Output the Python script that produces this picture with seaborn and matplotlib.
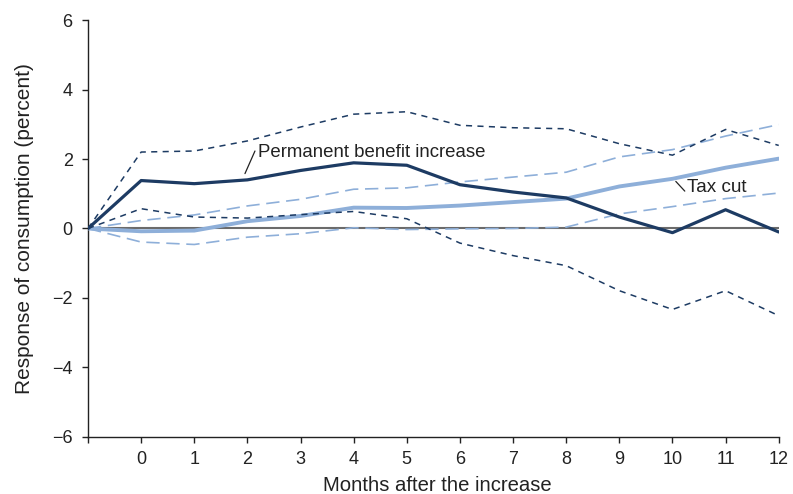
import matplotlib
matplotlib.use("Agg")
import matplotlib.pyplot as plt
import seaborn as sns
import pandas as pd

# Months after the increase (-1 is the pre-period anchor at zero)
months = [-1, 0, 1, 2, 3, 4, 5, 6, 7, 8, 9, 10, 11, 12]

# Permanent benefit increase: point estimate and confidence band
perm = [0, 1.38, 1.29, 1.40, 1.67, 1.89, 1.82, 1.26, 1.05, 0.88, 0.33, -0.12, 0.54, -0.10]
perm_hi = [0, 2.20, 2.23, 2.52, 2.92, 3.29, 3.36, 2.97, 2.90, 2.87, 2.44, 2.11, 2.85, 2.39]
perm_lo = [0, 0.57, 0.33, 0.30, 0.40, 0.49, 0.28, -0.42, -0.78, -1.07, -1.79, -2.33, -1.79, -2.51]

# Tax cut: point estimate and confidence band
tax = [0, -0.08, -0.06, 0.21, 0.36, 0.60, 0.59, 0.66, 0.76, 0.86, 1.21, 1.43, 1.75, 2.01]
tax_hi = [0, 0.23, 0.39, 0.65, 0.84, 1.13, 1.17, 1.34, 1.48, 1.62, 2.06, 2.27, 2.66, 2.99]
tax_lo = [0, -0.39, -0.46, -0.25, -0.15, 0.02, -0.03, -0.01, 0.0, 0.04, 0.42, 0.63, 0.86, 1.02]

y_ticks = [-6, -4, -2, 0, 2, 4, 6]
x_ticks = list(range(0, 13))

DARK = "#1d3b63"
LIGHT = "#8eafd9"
INK = "#222222"

sns.set_theme(style="white")
plt.rcParams["font.family"] = ["Liberation Sans", "DejaVu Sans"]

df = pd.DataFrame({
    "month": months,
    "perm": perm, "perm_hi": perm_hi, "perm_lo": perm_lo,
    "tax": tax, "tax_hi": tax_hi, "tax_lo": tax_lo,
})

fig = plt.figure(figsize=(7.93, 4.94), dpi=100)
ax = fig.add_axes([0.111, 0.1154, 0.871, 0.8441])

ax.axhline(0, color="#6b6b6b", lw=1.5, zorder=1)

# Tax cut band and estimate
for col in ["tax_hi", "tax_lo"]:
    sns.lineplot(data=df, x="month", y=col, ax=ax, color=LIGHT, lw=1.2,
                 zorder=2).lines[-1].set_dashes([8, 4])
sns.lineplot(data=df, x="month", y="tax", ax=ax, color=LIGHT, lw=2.8, zorder=3)

# Permanent benefit band and estimate
for col in ["perm_hi", "perm_lo"]:
    sns.lineplot(data=df, x="month", y=col, ax=ax, color=DARK, lw=1.1,
                 zorder=4).lines[-1].set_dashes([4, 3.5])
sns.lineplot(data=df, x="month", y="perm", ax=ax, color=DARK, lw=2.3, zorder=5)

ax.set_xlim(-1, 12)
ax.set_ylim(-6, 6)
ax.set_yticks(y_ticks)
ax.set_yticklabels(["\u2212" + str(-v) if v < 0 else str(v) for v in y_ticks])
ax.set_xticks([-1] + x_ticks)
ax.set_xticklabels([""] + [str(v) for v in x_ticks])

for s in ["top", "right"]:
    ax.spines[s].set_visible(False)
for s in ["left", "bottom"]:
    ax.spines[s].set_color(INK)
    ax.spines[s].set_linewidth(1.0)

ax.tick_params(axis="both", which="major", direction="out", length=4.5, width=1.0,
               color=INK, labelsize=13, labelcolor=INK, left=True, bottom=True)
ax.tick_params(axis="x", pad=5.5)
ax.tick_params(axis="y", pad=6.5)

ax.set_xlabel("")
fig.text(437.5 / 793, 3.3 / 494, "Months after the increase", fontsize=14.6,
         color=INK, ha="center", va="baseline")
ax.set_ylabel("Response of consumption (percent)", fontsize=15, color=INK, labelpad=13)

# Series labels with short leader lines
ax.plot([1.954, 2.142], [1.58, 2.23], color=INK, lw=0.9)
ax.text(2.2, 2.06, "Permanent benefit increase", fontsize=13.4, color=INK,
        va="baseline", ha="left")
ax.plot([10.063, 10.232], [1.355, 1.076], color=INK, lw=0.9)
ax.text(10.28, 1.05, "Tax cut", fontsize=13.6, color=INK, va="baseline", ha="left")

fig.savefig("out.png", dpi=100)
